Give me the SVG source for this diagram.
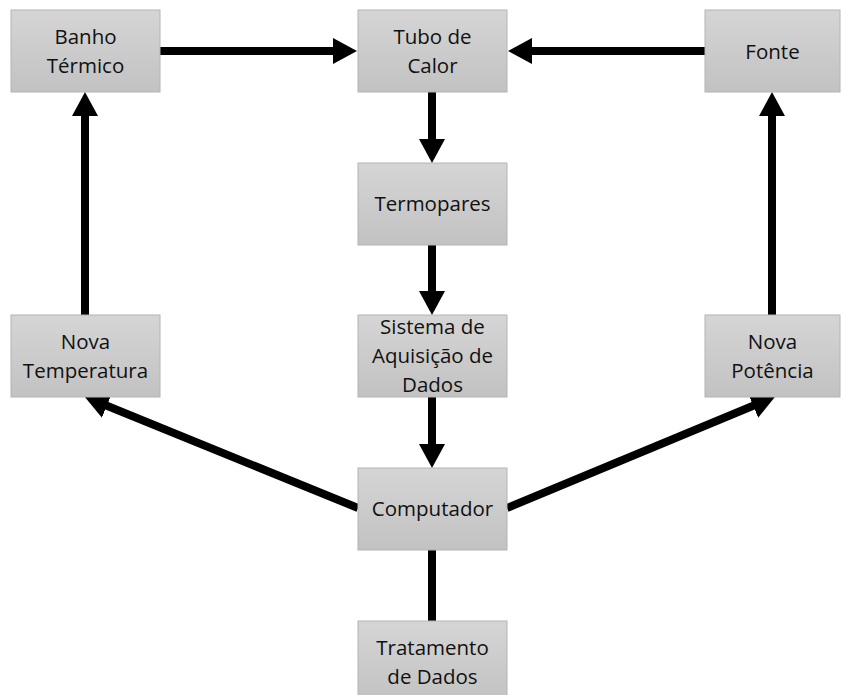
<svg xmlns="http://www.w3.org/2000/svg" width="841" height="695" viewBox="0 0 841 695">
<defs>
<linearGradient id="g" x1="0" y1="0" x2="0" y2="1">
<stop offset="0" stop-color="#d5d5d5"/>
<stop offset="1" stop-color="#c2c2c2"/>
</linearGradient>
<marker id="ah" viewBox="0 0 24 26" refX="2" refY="13" markerWidth="24" markerHeight="26" markerUnits="userSpaceOnUse" orient="auto">
<path d="M0,0 L24,13 L0,26 z" fill="#000"/>
</marker>
</defs>
<style>
.box{fill:url(#g);stroke:#b4b4b4;stroke-width:1}
.t{font-family:"Open Sans","DejaVu Sans",sans-serif;font-size:20.5px;fill:#111;text-anchor:middle}
.c{stroke:#000;stroke-width:8;fill:none}
.a{marker-end:url(#ah)}
</style>
<g id="connectors">
<line class="c a" x1="160" y1="51" x2="335" y2="51"/>
<line class="c a" x1="705" y1="51" x2="530" y2="51"/>
<line class="c a" x1="432" y1="92" x2="432" y2="141"/>
<line class="c a" x1="432" y1="245" x2="432" y2="293"/>
<line class="c a" x1="432" y1="397" x2="432" y2="446"/>
<line class="c" x1="432" y1="550" x2="432" y2="621"/>
<line class="c a" x1="85" y1="315" x2="85" y2="114"/>
<line class="c a" x1="772" y1="315" x2="772" y2="114"/>
<line class="c a" x1="358" y1="508" x2="105" y2="405"/>
<line class="c a" x1="507" y1="508" x2="755" y2="405"/>
</g>
<g id="banho"><rect class="box" x="11" y="10" width="149" height="82"/><text class="t" x="85.5" y="44">Banho</text><text class="t" x="85.5" y="73">Térmico</text></g>
<g id="tubo"><rect class="box" x="358" y="10" width="149" height="82"/><text class="t" x="432.5" y="44">Tubo de</text><text class="t" x="432.5" y="73">Calor</text></g>
<g id="fonte"><rect class="box" x="705" y="10" width="135" height="82"/><text class="t" x="772.5" y="59">Fonte</text></g>
<g id="termopares"><rect class="box" x="358" y="163" width="149" height="82"/><text class="t" x="432.5" y="211">Termopares</text></g>
<g id="sistema"><rect class="box" x="358" y="315" width="149" height="82"/><text class="t" x="432.5" y="334">Sistema de</text><text class="t" x="432.5" y="363">Aquisição de</text><text class="t" x="432.5" y="392">Dados</text></g>
<g id="novatemp"><rect class="box" x="11" y="315" width="149" height="82"/><text class="t" x="85.5" y="349">Nova</text><text class="t" x="85.5" y="378">Temperatura</text></g>
<g id="novapot"><rect class="box" x="705" y="315" width="135" height="82"/><text class="t" x="772.5" y="349">Nova</text><text class="t" x="772.5" y="378">Potência</text></g>
<g id="computador"><rect class="box" x="358" y="468" width="149" height="82"/><text class="t" x="432.5" y="516">Computador</text></g>
<g id="tratamento"><rect class="box" x="358" y="621" width="149" height="82"/><text class="t" x="432.5" y="655">Tratamento</text><text class="t" x="432.5" y="684">de Dados</text></g>
</svg>
